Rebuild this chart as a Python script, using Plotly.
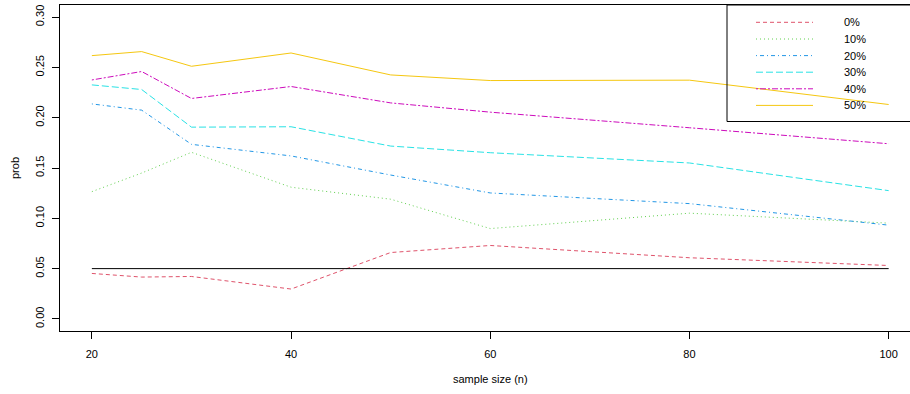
import plotly.graph_objects as go

# ---- data ----
sample_size = [20, 25, 30, 40, 50, 60, 80, 100]
p0 = [0.0452, 0.0416, 0.0422, 0.0297, 0.0660, 0.0730, 0.0608, 0.0531]
p10 = [0.1265, 0.1450, 0.1656, 0.1309, 0.1190, 0.0898, 0.1051, 0.0952]
p20 = [0.2137, 0.2075, 0.1735, 0.1620, 0.1430, 0.1252, 0.1146, 0.0932]
p30 = [0.2326, 0.2280, 0.1906, 0.1910, 0.1718, 0.1652, 0.1550, 0.1275]
p40 = [0.2375, 0.2459, 0.2191, 0.2310, 0.2147, 0.2055, 0.1900, 0.1741]
p50 = [0.2617, 0.2657, 0.2511, 0.2643, 0.2425, 0.2369, 0.2373, 0.2131]
alpha_level = 0.05
labels = ["0%", "10%", "20%", "30%", "40%", "50%"]
y_ticks = [0.00, 0.05, 0.10, 0.15, 0.20, 0.25, 0.30]
x_ticks = [20, 40, 60, 80, 100]

series = [p0, p10, p20, p30, p40, p50]
colors = ["#DF536B", "#61D04F", "#2297E6", "#28E2E5", "#CD0BBC", "#F5C710"]
dashes = ["4px,3px", "1px,3px", "1px,3px,4px,3px", "7px,3px", "2px,2px,6px,2px", "solid"]

W, H = 910, 394
L, R, T, B = 60, 0, 5, 63
plot_w = W - L - R
plot_h = H - T - B
x_range = [16.8, 16.8 + plot_w / 9.96]
y_range = [-0.012, 0.312]

FONT = "Liberation Sans, Arial, sans-serif"

fig = go.Figure()

for s, c, d, lab in zip(series, colors, dashes, labels):
    fig.add_trace(go.Scatter(x=sample_size, y=s, mode="lines", name=lab,
                             line=dict(color=c, width=1, dash=d),
                             showlegend=False, hoverinfo="skip"))

fig.add_trace(go.Scatter(x=[sample_size[0], sample_size[-1]], y=[alpha_level, alpha_level],
                         mode="lines", line=dict(color="black", width=1),
                         showlegend=False, hoverinfo="skip"))

def px_to_paper_x(px):
    return (px - L) / plot_w

def px_to_paper_y(py):
    return (H - B - py) / plot_h

shapes = []
annotations = []
# legend box (right edge beyond window)
shapes.append(dict(type="rect", xref="paper", yref="paper",
                   x0=px_to_paper_x(727), x1=px_to_paper_x(960),
                   y0=px_to_paper_y(121.5), y1=1.0,
                   line=dict(color="black", width=1), fillcolor="rgba(0,0,0,0)"))
leg_y = [22.3, 39.0, 55.6, 72.2, 88.8, 105.4]
for lab, c, d, yy in zip(labels, colors, dashes, leg_y):
    shapes.append(dict(type="line", xref="paper", yref="paper",
                       x0=px_to_paper_x(756), x1=px_to_paper_x(813),
                       y0=px_to_paper_y(yy), y1=px_to_paper_y(yy),
                       line=dict(color=c, width=1, dash=d)))
    annotations.append(dict(xref="paper", yref="paper", x=px_to_paper_x(842),
                            y=px_to_paper_y(yy), text=lab, showarrow=False,
                            xanchor="left", yanchor="middle",
                            font=dict(family=FONT, size=11, color="black")))

# axis titles
annotations.append(dict(xref="paper", yref="paper", x=px_to_paper_x(490),
                        y=px_to_paper_y(379), text="sample size (n)", showarrow=False,
                        xanchor="center", yanchor="middle",
                        font=dict(family=FONT, size=11, color="black")))
annotations.append(dict(xref="paper", yref="paper", x=px_to_paper_x(15),
                        y=px_to_paper_y(168), text="prob", showarrow=False, textangle=-90,
                        xanchor="center", yanchor="middle",
                        font=dict(family=FONT, size=11, color="black")))

fig.update_layout(
    width=W, height=H,
    margin=dict(l=L, r=R, t=T, b=B, pad=0),
    paper_bgcolor="white", plot_bgcolor="white",
    font=dict(family=FONT, size=11, color="black"),
    shapes=shapes, annotations=annotations,
    xaxis=dict(range=x_range, tickvals=x_ticks, ticktext=[str(v) for v in x_ticks],
               showgrid=False, zeroline=False, showline=True, mirror=True,
               linecolor="black", linewidth=1, ticks="outside", ticklen=7,
               tickcolor="black", tickwidth=1, ticklabelstandoff=6,
               tickfont=dict(family=FONT, size=11, color="black")),
    yaxis=dict(range=y_range, tickvals=y_ticks, ticktext=["%.2f" % v for v in y_ticks],
               showgrid=False, zeroline=False, showline=True, mirror=False,
               linecolor="black", linewidth=1, ticks="outside", ticklen=7,
               tickcolor="black", tickwidth=1, tickangle=-90, ticklabelstandoff=4,
               tickfont=dict(family=FONT, size=11, color="black")),
)

fig.write_html("out.html")
